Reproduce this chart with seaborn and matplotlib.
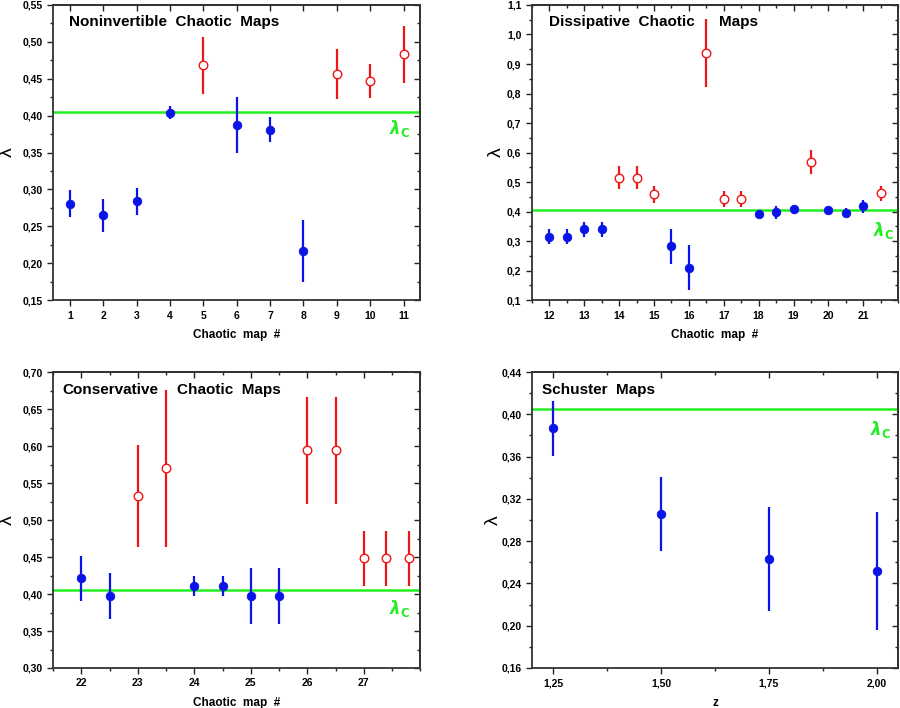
"""Lyapunov exponent estimates for four families of chaotic maps."""

import matplotlib
matplotlib.use('Agg')
import matplotlib.pyplot as plt
import matplotlib.ticker as mticker
import seaborn as sns
import pandas as pd

sns.set_style('ticks')
plt.rcParams['font.family'] = ['Liberation Sans', 'DejaVu Sans']
plt.rcParams['font.weight'] = 'bold'
plt.rcParams['mathtext.fontset'] = 'dejavusans'
for key in ['text.color', 'axes.labelcolor', 'xtick.color', 'ytick.color']:
    plt.rcParams[key] = 'black'

LAMBDA_C = 0.405

# Noninvertible maps
nonInv_x = [1, 2, 3, 4, 5, 6, 7, 8, 9, 10, 11]
nonInv_y = [0.281, 0.265, 0.284, 0.404, 0.468, 0.387, 0.381, 0.217, 0.456, 0.447, 0.483]
nonInv_err = [0.018, 0.022, 0.018, 0.009, 0.039, 0.038, 0.017, 0.042, 0.034, 0.023, 0.039]
nonInv_grp = ['in', 'in', 'in', 'in', 'out', 'in', 'in', 'in', 'out', 'out', 'out']
nonInv_ticks = [1, 2, 3, 4, 5, 6, 7, 8, 9, 10, 11]

# Dissipative maps
diss_x = [12, 12.5, 13, 13.5, 14, 14.5, 15, 15.5, 16, 16.5, 17, 17.5, 18, 18.5, 19, 19.5, 20, 20.5, 21, 21.5]
diss_y = [0.315, 0.315, 0.340, 0.340, 0.515, 0.515, 0.458, 0.282, 0.210, 0.936,
          0.443, 0.443, 0.393, 0.398, 0.408, 0.568, 0.406, 0.396, 0.419, 0.462]
diss_err = [0.025, 0.025, 0.025, 0.025, 0.038, 0.038, 0.028, 0.060, 0.077, 0.115,
            0.028, 0.028, 0.008, 0.022, 0.015, 0.040, 0.010, 0.015, 0.022, 0.025]
diss_grp = ['in', 'in', 'in', 'in', 'out', 'out', 'out', 'in', 'in', 'out',
            'out', 'out', 'in', 'in', 'in', 'out', 'in', 'in', 'in', 'out']
diss_ticks = [12, 13, 14, 15, 16, 17, 18, 19, 20, 21]

# Conservative maps
cons_x = [22, 22.5, 23, 23.5, 24, 24.5, 25, 25.5, 26, 26.5, 27, 27.4, 27.8]
cons_y = [0.421, 0.397, 0.533, 0.570, 0.411, 0.411, 0.397, 0.397, 0.594, 0.594, 0.448, 0.448, 0.448]
cons_err = [0.030, 0.031, 0.069, 0.106, 0.014, 0.014, 0.038, 0.038, 0.072, 0.072, 0.037, 0.037, 0.037]
cons_grp = ['in', 'in', 'out', 'out', 'in', 'in', 'in', 'in', 'out', 'out', 'out', 'out', 'out']
cons_ticks = [22, 23, 24, 25, 26, 27]

# Schuster maps
schus_z = [1.25, 1.50, 1.75, 2.00]
schus_y = [0.387, 0.306, 0.263, 0.252]
schus_err = [0.026, 0.035, 0.049, 0.056]
schus_grp = ['in', 'in', 'in', 'in']
schus_ticks = [1.25, 1.50, 1.75, 2.00]

BLUE = '#0a14e6'
RED = '#f01414'
GREEN = '#22ee22'


def comma_fmt(decimals):
    return mticker.FuncFormatter(lambda v, _: f'{v:.{decimals}f}'.replace('.', ','))


def style_ticks(axis, direction, length_major=4, length_minor=2.5):
    axis.set_tick_params(which='both', direction=direction, width=1.0, color='#222222')
    axis.set_tick_params(which='major', length=length_major)
    axis.set_tick_params(which='minor', length=length_minor)


def draw_panel(ax, x, y, err, grp, xlim, ylim, xticks, xminor, ymajor, yminor,
               ydec, xdec, xlabel, lc_pos, ylab_x):
    df = pd.DataFrame({'x': x, 'y': y, 'err': err, 'grp': grp})
    for g, col in [('in', BLUE), ('out', RED)]:
        sub = df[df.grp == g]
        if sub.empty:
            continue
        ax.errorbar(sub.x, sub.y, yerr=sub.err, fmt='none', ecolor=col,
                    elinewidth=1.6, capsize=0, zorder=2)
    sns.scatterplot(data=df[df.grp == 'in'], x='x', y='y', ax=ax, color=BLUE,
                    s=38, edgecolor=BLUE, linewidth=0.6, zorder=3, legend=False)
    if (df.grp == 'out').any():
        sns.scatterplot(data=df[df.grp == 'out'], x='x', y='y', ax=ax,
                        facecolor='white', edgecolor=RED, s=38, linewidth=1.0,
                        zorder=3, legend=False)
    ax.axhline(LAMBDA_C, color=GREEN, lw=1.8, zorder=1)
    ax.text(lc_pos[0], lc_pos[1], r'$\lambda_{\rm C}$', color=GREEN,
            fontsize=12, ha='left', va='center')

    ax.set_xlim(*xlim)
    ax.set_ylim(*ylim)
    ax.xaxis.set_major_locator(mticker.FixedLocator(xticks))
    ax.yaxis.set_major_locator(mticker.MultipleLocator(ymajor))
    if xminor:
        ax.xaxis.set_minor_locator(mticker.MultipleLocator(xminor))
    ax.yaxis.set_minor_locator(mticker.MultipleLocator(yminor))
    ax.yaxis.set_major_formatter(comma_fmt(ydec))
    ax.xaxis.set_major_formatter(comma_fmt(xdec))

    ax.tick_params(axis='both', which='both', top=False, right=False, labelsize=7.5)
    style_ticks(ax.xaxis, 'out')
    style_ticks(ax.yaxis, 'out')

    # inward ticks on the top and right edges
    top = ax.secondary_xaxis('top')
    top.xaxis.set_major_locator(mticker.FixedLocator(xticks))
    if xminor:
        top.xaxis.set_minor_locator(mticker.MultipleLocator(xminor))
    top.xaxis.set_major_formatter(mticker.NullFormatter())
    style_ticks(top.xaxis, 'in')
    right = ax.secondary_yaxis('right')
    right.yaxis.set_major_locator(mticker.MultipleLocator(ymajor))
    right.yaxis.set_minor_locator(mticker.MultipleLocator(yminor))
    right.yaxis.set_major_formatter(mticker.NullFormatter())
    style_ticks(right.yaxis, 'in')

    for a in (ax, top, right):
        for s in a.spines.values():
            s.set_linewidth(1.3)
            s.set_color('#333333')
    for s in ax.spines.values():
        s.set_visible(True)

    ax.set_xlabel(xlabel, fontsize=8.5, fontweight='bold', labelpad=6)
    ax.set_ylabel('λ', fontsize=14)
    ax.yaxis.set_label_coords(ylab_x, 0.5)
    ax.grid(False)


fig = plt.figure(figsize=(9, 7.08), dpi=100)
ax1 = fig.add_axes([0.059, 0.576, 0.408, 0.417])
ax2 = fig.add_axes([0.591, 0.576, 0.407, 0.417])
ax3 = fig.add_axes([0.059, 0.0565, 0.408, 0.418])
ax4 = fig.add_axes([0.591, 0.0565, 0.407, 0.418])

draw_panel(ax1, nonInv_x, nonInv_y, nonInv_err, nonInv_grp, (0.5, 11.5), (0.15, 0.55),
           nonInv_ticks, None, 0.05, 0.025, 2, 0, 'Chaotic  map  #', (10.55, 0.383), -0.102)
draw_panel(ax2, diss_x, diss_y, diss_err, diss_grp, (11.5, 22), (0.1, 1.1),
           diss_ticks, 0.5, 0.1, 0.05, 1, 0, 'Chaotic  map  #', (21.27, 0.337), -0.073)
draw_panel(ax3, cons_x, cons_y, cons_err, cons_grp, (21.5, 28), (0.30, 0.70),
           cons_ticks, 0.5, 0.05, 0.025, 2, 0, 'Chaotic  map  #', (27.44, 0.381), -0.102)
draw_panel(ax4, schus_z, schus_y, schus_err, schus_grp, (1.2, 2.05), (0.16, 0.44),
           schus_ticks, 0.125, 0.04, 0.02, 2, 2, 'z', (1.985, 0.386), -0.081)

title_kw = dict(fontsize=11, fontweight='bold', va='center', ha='left', color='black')
ax1.text(0.044, 0.942, 'Noninvertible  Chaotic  Maps', transform=ax1.transAxes, **title_kw)
ax2.text(0.047, 0.942, 'Dissipative  Chaotic', transform=ax2.transAxes, **title_kw)
ax2.text(0.511, 0.942, 'Maps', transform=ax2.transAxes, **title_kw)
ax3.text(0.024, 0.939, 'Conservative', transform=ax3.transAxes, **title_kw)
ax3.text(0.337, 0.939, 'Chaotic  Maps', transform=ax3.transAxes, **title_kw)
ax4.text(0.027, 0.939, 'Schuster  Maps', transform=ax4.transAxes, **title_kw)

fig.savefig('out.png', dpi=100)
plt.close(fig)
